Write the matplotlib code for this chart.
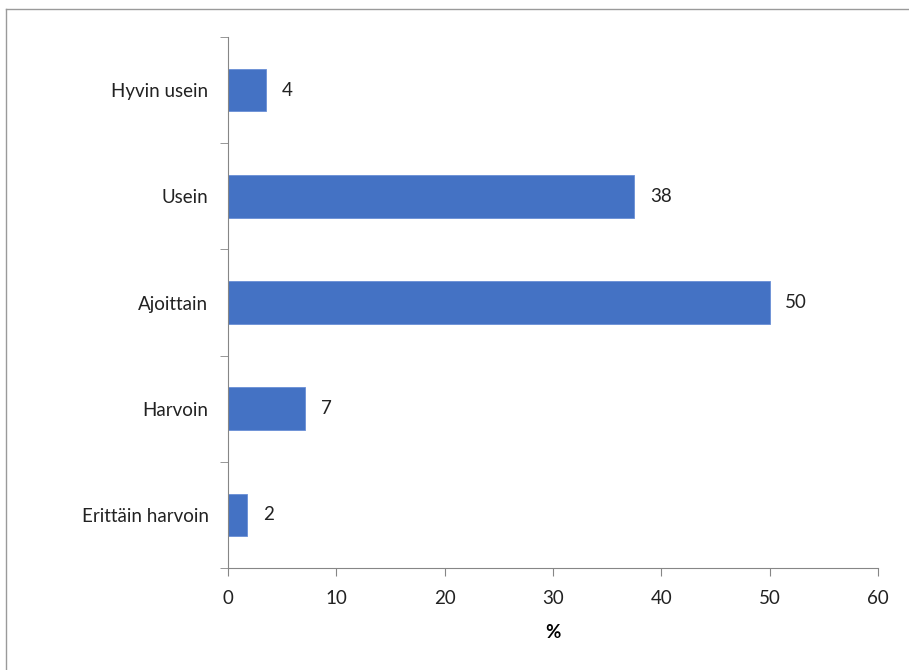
import matplotlib.pyplot as plt
from matplotlib.lines import Line2D

categories = ['Hyvin usein', 'Usein', 'Ajoittain', 'Harvoin', 'Erittäin harvoin']
values = [3.5, 37.5, 50.0, 7.1, 1.8]
labels = ['4', '38', '50', '7', '2']

plt.rcParams['font.family'] = ['Lato', 'DejaVu Sans']
fs = 13.5

fig = plt.figure(figsize=(9.09, 6.70), dpi=100)
ax = fig.add_axes([0.2508, 0.1522, 0.7151, 0.7926])

# kategoriat ylhäältä alas
ypos = list(range(len(categories)))[::-1]
ax.barh(ypos, values, height=0.4, color='#4472C4', edgecolor='#6A8FD6', linewidth=0.6)

for y, v, lab in zip(ypos, values, labels):
    ax.text(v + 1.45, y, lab, va='center', ha='left', fontsize=fs, color='#222222')

ax.set_xlim(0, 60)
ax.set_ylim(-0.5, len(categories) - 0.5)
ax.set_xticks(range(0, 61, 10))
ax.set_yticks(ypos)
ax.set_yticklabels(categories)
ax.set_yticks([i - 0.5 for i in range(len(categories) + 1)], minor=True)

ax.tick_params(axis='y', which='major', length=0, pad=14, labelsize=fs, labelcolor='#222222')
ax.tick_params(axis='y', which='minor', length=6, color='#868686', direction='out')
ax.tick_params(axis='x', length=6, color='#868686', labelsize=fs, labelcolor='#222222', pad=10)

for s in ['top', 'right']:
    ax.spines[s].set_visible(False)
for s in ['left', 'bottom']:
    ax.spines[s].set_color('#868686')

ax.set_xlabel('%', fontsize=fs, fontweight='bold', labelpad=12)

# kehys kuvan ympärillä
fig.add_artist(Line2D([6 / 909, 6 / 909], [0, 1 - 9 / 670], transform=fig.transFigure, color='#9a9a9a', lw=1))
fig.add_artist(Line2D([6 / 909, 1], [1 - 9 / 670, 1 - 9 / 670], transform=fig.transFigure, color='#9a9a9a', lw=1))

fig.savefig('out.png', dpi=100)
